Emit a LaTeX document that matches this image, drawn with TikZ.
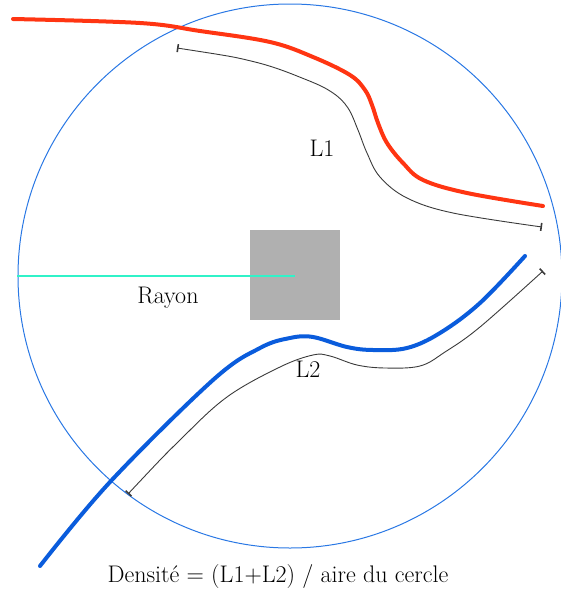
\documentclass[tikz,border=0pt]{standalone}
\usepackage{tikz}
\usetikzlibrary{arrows.meta}
\definecolor{ringblue}{HTML}{2A78E4}
\definecolor{streetred}{HTML}{FF3512}
\definecolor{streetblue}{HTML}{0A5CDC}
\definecolor{rayaqua}{HTML}{30F2C8}
\definecolor{blockgray}{HTML}{B0B0B0}
\definecolor{measure}{HTML}{3A3A3A}
\begin{document}
\begin{tikzpicture}[x=1pt,y=-1pt,
  street/.style={line width=4pt,line cap=round,line join=round},
  len/.style={measure,line width=0.9pt,{Bar[width=8pt,line width=1.6pt]}-{Bar[width=8pt,line width=1.6pt]}},
  lbl/.style={font=\fontsize{24}{28}\selectfont,inner sep=0pt}]
\useasboundingbox (0,0) rectangle (561,592);
% zone de calcul
\draw[ringblue,line width=1pt] (290,276) circle[radius=272];
\fill[blockgray] (250,230) rectangle (340,320);
\coordinate (ctr) at (295,276);
\coordinate (edge) at (17,276);
\draw[rayaqua,line width=2.2pt] (edge) -- (ctr);
% rues
\draw[street,streetred] plot[smooth,tension=0.6] coordinates {(13,19) (140,23) (200,31) (270,42)
  (313,57) (350,75) (365,90) (372,105) (378,123) (387,143) (403,163) (423,180) (467,193) (543,206)};
\draw[street,streetblue] plot[smooth,tension=0.6] coordinates {(40,566) (110,482) (213,380) (260,348)
  (290,338) (313,337) (347,347) (373,350) (407,348) (440,333) (480,303) (525,256)};
% longueurs
\draw[len] plot[smooth,tension=0.6] coordinates {(177,48) (255,62) (307,80) (333,93) (348,108)
  (358,130) (367,153) (380,177) (407,198) (453,213) (542,227)};
\draw[len] plot[smooth,tension=0.6] coordinates {(128,494) (180,440) (227,397) (280,367) (313,355)
  (330,356) (357,365) (385,368) (420,366) (445,352) (480,327) (543,271)};
\node[lbl] (l1) at (322,148) {L1};
\node[lbl] (l2) at (308,369) {L2};
\node[lbl] (rayon) at (168,298) {Rayon};
\node[lbl] (formule) at (278,577) {Densité = (L1+L2) / aire du cercle};
\end{tikzpicture}
\end{document}
